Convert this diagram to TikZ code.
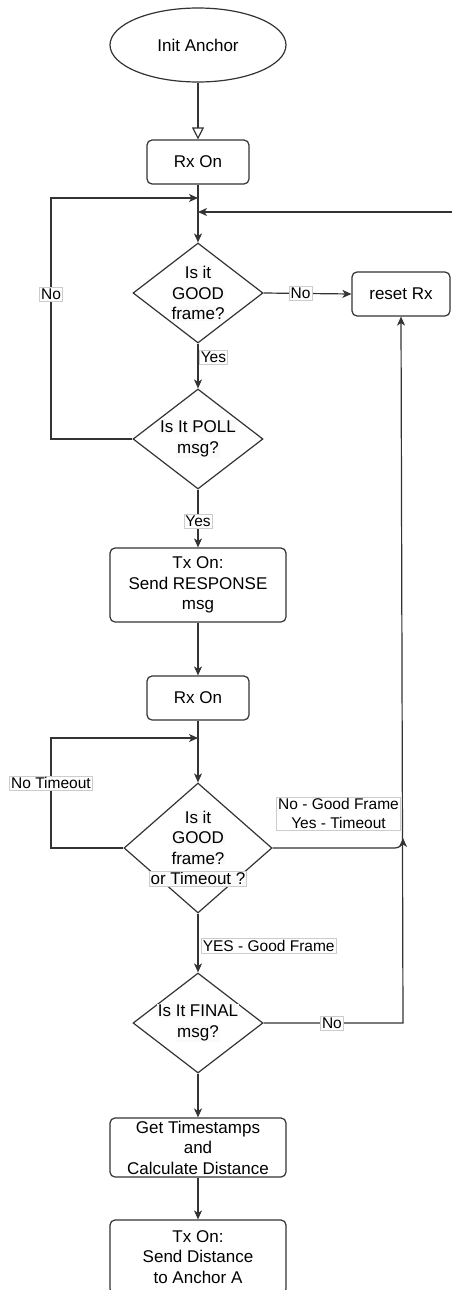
\documentclass[tikz,border=0pt]{standalone}
\usepackage{fontspec}
\setmainfont{Liberation Sans}
\usetikzlibrary{shapes.geometric,arrows.meta,positioning}
\definecolor{bgc}{RGB}{250,250,250}
\newcommand{\dtxt}[1]{{\setlength{\fboxsep}{0.8pt}\colorbox{bgc}{#1}}}
\newcommand{\dtxtb}[1]{{\setlength{\fboxsep}{0.8pt}\setlength{\fboxrule}{0.6pt}\fcolorbox{black!20}{bgc}{#1}}}
\begin{document}
\begin{tikzpicture}[x=1pt,y=-1pt,
  every node/.style={font=\fontsize{17}{20.5}\selectfont, align=center},
  line/.style={line width=1.2pt, draw=black!80},
  arr/.style={line, -{Stealth[length=9pt,width=8pt,inset=2.5pt]}},
  openarr/.style={line, -{Triangle[open,length=12pt,width=12pt,line width=1.2pt]}},
  procbox/.style={draw=black!80, line width=1.2pt, rounded corners=5pt, fill=white, inner sep=0pt},
  decbox/.style={draw=black!80, line width=1.2pt, diamond, fill=white, inner sep=-30pt},
  startbox/.style={draw=black!80, line width=1.2pt, ellipse, fill=white, inner sep=0pt},
  lbl/.style={font=\fontsize{15.5}{18.5}\selectfont, fill=white, draw=black!20, line width=0.6pt, inner sep=1.5pt}
]
\useasboundingbox (0,0) rectangle (452,1290);
\clip (0,0) rectangle (452,1290);

\node[startbox, minimum width=176, minimum height=74] (init) at (198,45) {Init Anchor};
\node[procbox, minimum width=102, minimum height=44] (rx1) at (198,162) {Rx On};
\node[decbox, minimum width=130, minimum height=100] (d1) at (198,293) {\dtxt{Is it}\\\dtxt{GOOD}\\\dtxt{frame?}};
\node[procbox, minimum width=98, minimum height=44] (reset) at (401,294) {reset Rx};
\node[decbox, minimum width=130, minimum height=100] (d2) at (198,439) {\dtxt{Is It POLL}\\\dtxt{msg?}};
\node[procbox, minimum width=176, minimum height=74] (tx1) at (198,585) {Tx On:\\Send RESPONSE\\msg};
\node[procbox, minimum width=102, minimum height=44] (rx2) at (198,698) {Rx On};
\node[decbox, minimum width=148, minimum height=130] (d3) at (198,848) {\dtxt{Is it}\\\dtxt{GOOD}\\\dtxt{frame?}\\\dtxtb{or Timeout ?}};
\node[decbox, minimum width=130, minimum height=100] (d4) at (198,1023) {\dtxt{Is It FINAL}\\\dtxt{msg?}};
\node[procbox, minimum width=176, minimum height=59] (calc) at (198,1147.5) {Get Timestamps\\and\\Calculate Distance};
\node[procbox, minimum width=176, minimum height=74] (tx2) at (198,1257) {Tx On:\\Send Distance\\to Anchor A};

\coordinate (j1) at (198,198);
\coordinate (j2) at (198,212);
\coordinate (rin) at (453,212);
\coordinate (l1) at (51,439);
\coordinate (j3) at (198,738);
\coordinate (l3) at (51,848);
\coordinate (c3) at (403,848);
\coordinate (e3) at (403,838);
\coordinate (c4) at (403,1023);

\draw[openarr] (init) -- (rx1);
\draw[arr] (rx1) -- (d1);
\draw[arr] (rin) -- (j2);
\draw[arr] (d2.west) -- (l1) -- node[lbl, pos=0.6] {No} (l1 |- j1) -- (j1);
\draw[arr] (d1.east) -- node[lbl, pos=0.42] {No} (reset.west);
\draw[arr] (d1.south) -- node[lbl, anchor=west, xshift=1pt, pos=0.3] {Yes} (d2.north);
\draw[arr] (d2.south) -- node[lbl, pos=0.55] {Yes} (tx1.north);
\draw[arr] (tx1) -- (rx2);
\draw[arr] (rx2) -- (d3);
\draw[arr] (d3.west) -- (l3) -- node[lbl, pos=0.59] {No Timeout} (l3 |- j3) -- (j3);
\draw[arr, rounded corners=8pt] (d3.east) -- (c3) -- (e3);
\node[lbl] (lblgf) at (338.5,813.5) {No - Good Frame\\Yes - Timeout};
\draw[arr] (d3.south) -- node[lbl, anchor=west, xshift=3pt, pos=0.55] {YES - Good Frame} (d4.north);
\draw[arr] (d4.east) -- node[lbl, pos=0.49] {No} (c4) -- (reset.south);
\draw[arr] (d4) -- (calc);
\draw[arr] (calc) -- (tx2);
\end{tikzpicture}
\end{document}
